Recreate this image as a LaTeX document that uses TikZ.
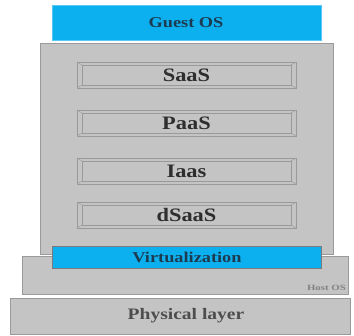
\documentclass[tikz,border=0pt]{standalone}
\usepackage{fontspec}
\setmainfont{Liberation Serif}
\definecolor{layergray}{HTML}{C4C4C4}
\definecolor{edgegray}{HTML}{9A9A9A}
\definecolor{oscyan}{HTML}{0DB0EE}
\definecolor{txt}{HTML}{2E2E2E}
\definecolor{cyantxt}{HTML}{1C3A50}
\tikzset{
  layer/.style={fill=layergray, draw=edgegray, line width=0.8pt},
  cyanbar/.style={fill=oscyan, draw=edgegray!80!black, line width=0.8pt},
  lbl/.style={text=txt, inner sep=0pt, font=\bfseries},
}
% widened label text
\newcommand{\widetext}[3]{\scalebox{#1}[1]{\fontsize{#2}{#2}\selectfont #3}}
% beveled service box: #1 = name, #2 = top y, #3 = bottom y, #4 = text
\newcommand{\servicebox}[4]{%
  \draw[layer] (77,#2) rectangle (296,#3);
  \draw[draw=edgegray, line width=0.7pt] (82,#2+3) rectangle (291,#3-3);
  \draw[draw=edgegray, line width=0.5pt] (77,#2) -- (82,#2+3) (296,#2) -- (291,#2+3)
        (77,#3) -- (82,#3-3) (296,#3) -- (291,#3-3);
  \node[lbl] (#1) at (186.5,{(#2+#3)/2}) {\widetext{1.18}{19}{#4}};}
\begin{document}
\begin{tikzpicture}[x=1pt, y=-1pt]
  \useasboundingbox (0,0) rectangle (354,336);
  % hardware and host operating system
  \draw[layer] (10,298) rectangle (350,334);
  \node[lbl, text=txt!85!white] (phys) at (186,316) {\widetext{1.22}{16}{Physical layer}};
  \draw[layer] (22,256) rectangle (348,294);
  \node[lbl, text=txt!60!white, anchor=east] (host) at (346,287.5) {\widetext{1.35}{8}{Host OS}};
  % cloud stack
  \draw[layer] (40,43) rectangle (333,254);
  \servicebox{saas}{62}{88}{SaaS}
  \servicebox{paas}{110}{136}{PaaS}
  \servicebox{iaas}{158}{184}{Iaas}
  \servicebox{dsaas}{202}{228}{dSaaS}
  % virtualization layer and guest system
  \draw[cyanbar] (52,246) rectangle (321,268);
  \node[lbl, text=cyantxt] (virt) at (187,257) {\widetext{1.22}{15}{Virtualization}};
  \draw[fill=oscyan, draw=oscyan!70!white, line width=0.8pt] (52,5) rectangle (321,40);
  \node[lbl, text=cyantxt] (guest) at (186,22.5) {\widetext{1.22}{15}{Guest OS}};
\end{tikzpicture}
\end{document}
